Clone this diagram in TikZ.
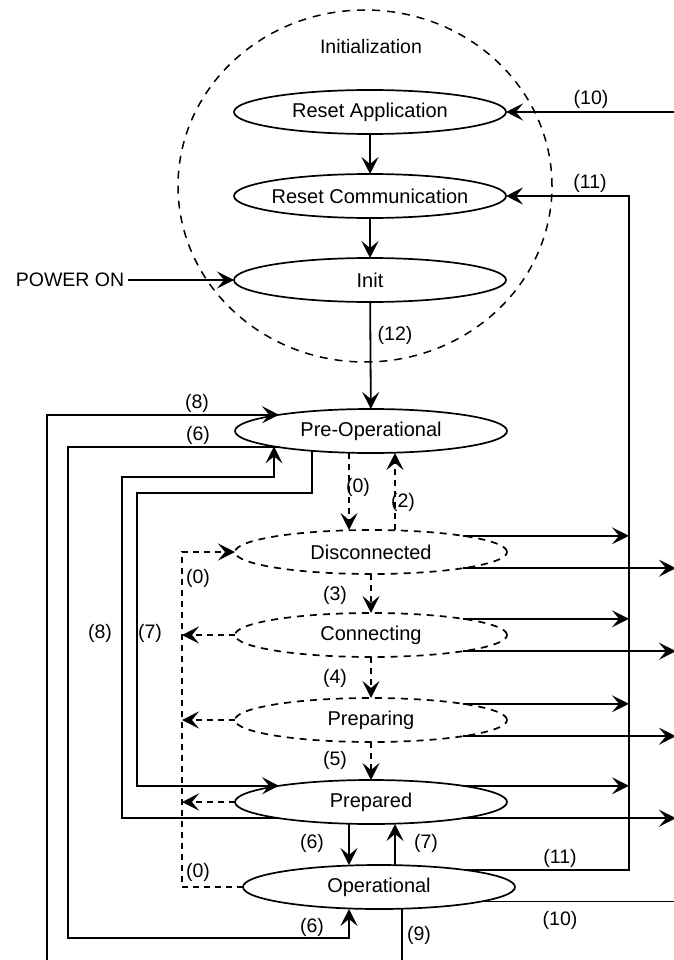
\documentclass[tikz,border=0pt]{standalone}
\usepackage{fontspec}
\setmainfont{Liberation Sans}
\usetikzlibrary{arrows.meta,shapes.geometric}
\begin{document}
\begin{tikzpicture}[x=1pt,y=-1pt,
  every node/.style={inner sep=0pt, outer sep=0pt},
  st/.style={ellipse, draw, line width=1.7pt, minimum width=272pt, minimum height=44pt, font=\fontsize{20}{22}\selectfont},
  dst/.style={st, dash pattern=on 7pt off 6pt},
  grp/.style={ellipse, draw, line width=1.5pt, dash pattern=on 8pt off 7pt, minimum width=374pt, minimum height=352pt},
  lbl/.style={font=\fontsize{19.5}{22}\selectfont},
  ln/.style={line width=1.8pt},
  arr/.style={ln, -{Stealth[length=17pt,width=17pt,inset=7pt]}},
  darr/.style={arr, dash pattern=on 6pt off 5pt},
]
\fill[white] (0,0) rectangle (673,960);
\useasboundingbox (0,0) rectangle (673,960);

% group
\node[grp] (initgrp) at (365,186) {};
\node[lbl] (initlbl) at (371,47) {Initialization};

% states
\node[st] (ra) at (370,112) {Reset Application};
\node[st] (rc) at (370,196) {\makebox[0pt]{Reset Communication}};
\node[st] (init) at (370,280) {Init};
\node[st] (preop) at (371,431) {Pre-Operational};
\node[dst] (disc) at (371,552) {Disconnected};
\node[dst] (conn) at (371,635) {Connecting};
\node[dst] (prep) at (371,720) {Preparing};
\node[st] (prepd) at (371,802) {Prepared};
\node[st] (op) at (379,887) {Operational};

\node[lbl, inner sep=4pt] (pwr) at (70,280) {POWER ON};

% helper coordinates
\coordinate (busR) at (629,196);
\coordinate (busE) at (676,112);
\coordinate (X349) at (349,0);
\coordinate (X395) at (395,0);
\coordinate (L6) at (68,938);
\coordinate (B8) at (402,990);
\coordinate (L8) at (47,990);
\coordinate (K1) at (122,477);
\coordinate (K2) at (274,477);
\coordinate (K3) at (312,493);
\coordinate (K4) at (137,493);
\coordinate (D0) at (182,552);

% initialization chain
\draw[arr] (ra) -- (rc);
\draw[arr] (rc) -- (init);
\draw[arr] (init) -- (preop);
\draw[arr] (pwr) -- (init);

% (10) and (11)
\draw[arr] (busE) -- (ra);
\draw[arr] (op.11) -| (busR) -- (rc);
\draw[ln] (op.-8) -| (busE);

% right side arrows
\foreach \n in {disc,conn,prep,prepd}{
  \draw[arr] (\n.10) -- (\n.10 -| busR);
  \draw[arr] (\n.-10) -- (\n.-10 -| busE);
}

% dashed transitions
\draw[darr] (preop.south -| X349) -- (disc.north -| X349);
\draw[darr] (disc.north -| X395) -- (preop.south -| X395);
\draw[darr] (disc) -- (conn);
\draw[darr] (conn) -- (prep);
\draw[darr] (prep) -- (prepd);

% prepared / operational
\draw[arr] (prepd.south -| X349) -- (op.north -| X349);
\draw[arr] (op.north -| X395) -- (prepd.south -| X395);

% (6) pre-op -> operational
\draw[arr] (preop.190) -| (L6) -| (op.south -| X349);
% (9) operational -> pre-op
\draw[arr] (op.south -| B8) -- (B8) -| (L8) |- (preop.170);
% (8) prepared -> pre-op
\draw[arr] (prepd.190) -| (K1) -- (K2) -- (K2 |- preop.189);
% (7) pre-op -> prepared
\draw[arr] (K3 |- preop.199) -- (K3) -- (K4) |- (prepd.170);

% (0) dashed bus
\draw[darr] (op.west) -| (D0) -- (disc.west);
\draw[darr] (conn.west) -- (conn.west -| D0);
\draw[darr] (prep.west) -- (prep.west -| D0);
\draw[darr] (prepd.west) -- (prepd.west -| D0);

% labels
\node[lbl] (t12) at (395,335) {(12)};
\node[lbl] (t10a) at (591,99) {(10)};
\node[lbl] (t11a) at (590,183) {(11)};
\node[lbl] (t8a) at (197,403) {(8)};
\node[lbl] (t6a) at (198,435) {(6)};
\node[lbl] (t0a) at (358,487) {(0)};
\node[lbl] (t2) at (403,502) {(2)};
\node[lbl] (t0b) at (198,578) {(0)};
\node[lbl] (t3) at (335,595) {(3)};
\node[lbl] (t8b) at (100,633) {(8)};
\node[lbl] (t7a) at (150,633) {(7)};
\node[lbl] (t4) at (335,678) {(4)};
\node[lbl] (t5) at (335,760) {(5)};
\node[lbl] (t6b) at (312,843) {(6)};
\node[lbl] (t7b) at (426,843) {(7)};
\node[lbl] (t0c) at (198,872) {(0)};
\node[lbl] (t11b) at (560,858) {(11)};
\node[lbl] (t10b) at (560,920) {(10)};
\node[lbl] (t6c) at (312,927) {(6)};
\node[lbl] (t9) at (419,935) {(9)};
\end{tikzpicture}
\end{document}
